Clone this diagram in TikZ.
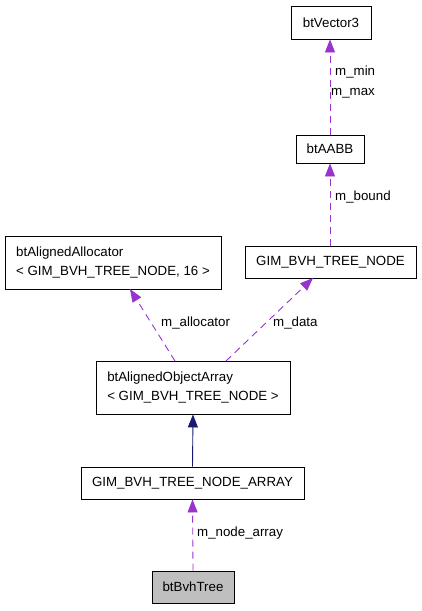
\documentclass[tikz,border=0pt]{standalone}
\usepackage{fontspec}
\setmainfont{Liberation Sans}
\usetikzlibrary{arrows.meta}
\definecolor{edgepurple}{HTML}{9A32CD}
\definecolor{edgenavy}{HTML}{191970}
\definecolor{boxgrey}{HTML}{BFBFBF}
\begin{document}
\begin{tikzpicture}[x=1pt,y=-1pt,
  box/.style={draw=black, line width=0.9pt, inner sep=0pt, font=\fontsize{13.3}{19}\selectfont},
  twoline/.style={box, align=left},
  usage/.style={draw=edgepurple, line width=0.9pt, dash pattern=on 7pt off 5pt, -{Triangle[length=13pt,width=10pt,fill=edgepurple]}},
  inherit/.style={draw=edgenavy, line width=0.9pt, -{Triangle[length=13pt,width=10pt,fill=edgenavy]}},
  elabel/.style={anchor=west, inner sep=0pt, font=\fontsize{13.3}{16}\selectfont}]
\useasboundingbox (0,0) rectangle (421,611);
\fill[white] (0,0) rectangle (421,611);
% nodes
\node[box, minimum width=80pt, minimum height=33pt] (vec) at (331,22.5) {btVector3};
\node[box, minimum width=68pt, minimum height=28pt] (aabb) at (330,149) {btAABB};
\node[box, minimum width=171pt, minimum height=32pt] (gnode) at (330.5,262) {GIM\_BVH\_TREE\_NODE};
\node[twoline, minimum width=216pt, minimum height=53pt] (alloc) at (113,262.5) {btAlignedAllocator\\\textless\ GIM\_BVH\_TREE\_NODE, 16 \textgreater};
\node[twoline, minimum width=194pt, minimum height=53pt] (arr) at (193,387.5) {btAlignedObjectArray\\\textless\ GIM\_BVH\_TREE\_NODE \textgreater};
\node[box, minimum width=223pt, minimum height=32pt] (narr) at (192.5,483) {GIM\_BVH\_TREE\_NODE\_ARRAY};
\node[box, fill=boxgrey, minimum width=82pt, minimum height=32pt] (tree) at (193,587) {btBvhTree};
% edges
\draw[usage] (tree.north) -- (narr.south);
\draw[inherit] (narr.north) -- (arr.south);
\coordinate (a1) at (175,361);
\coordinate (a2) at (130,289);
\coordinate (d1) at (226,361);
\coordinate (d2) at (313,278);
\draw[usage] (a1) -- (a2);
\draw[usage] (d1) -- (d2);
\draw[usage] (gnode.north -| aabb.south) -- (aabb.south);
\draw[usage] (aabb.north) -- (vec.south -| aabb.north);
% labels
\node[elabel] (lna) at (197,533) {m\_node\_array};
\node[elabel] (lal) at (161,323) {m\_allocator};
\node[elabel] (lda) at (273,323) {m\_data};
\node[elabel] (lbo) at (335,196.5) {m\_bound};
\node[elabel] (lmi) at (335,72) {m\_min};
\node[elabel] (lma) at (331,93) {m\_max};
\end{tikzpicture}
\end{document}
